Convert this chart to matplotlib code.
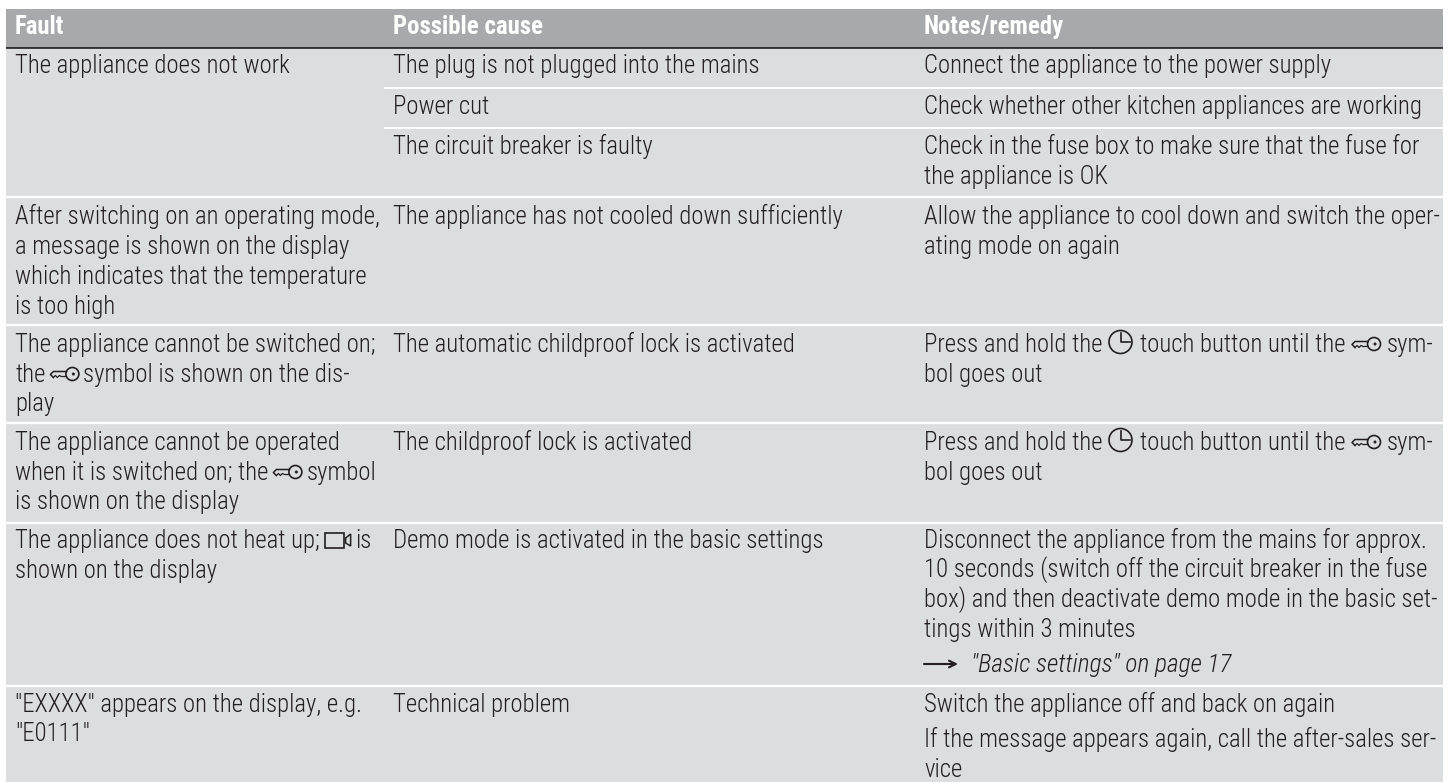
import matplotlib
matplotlib.use('Agg')
import re
import matplotlib.pyplot as plt
from matplotlib.patches import Rectangle, Circle, Polygon

plt.rcParams['font.family'] = ['Roboto Condensed', 'Liberation Sans', 'DejaVu Sans']

headers = ['Fault', 'Possible cause', 'Notes/remedy']

# {key} {clock} {demo} are the little panel symbols
faults = [
    ['The appliance does not work'],
    ['After switching on an operating mode,', 'a message is shown on the display',
     'which indicates that the temperature', 'is too high'],
    ['The appliance cannot be switched on;', 'the {key} symbol is shown on the dis-', 'play'],
    ['The appliance cannot be operated', 'when it is switched on; the {key} symbol', 'is shown on the display'],
    ['The appliance does not heat up; {demo} is', 'shown on the display'],
    ['"EXXXX" appears on the display, e.g.', '"E0111"'],
]
causes = [
    ['The plug is not plugged into the mains'],
    ['Power cut'],
    ['The circuit breaker is faulty'],
    ['The appliance has not cooled down sufficiently'],
    ['The automatic childproof lock is activated'],
    ['The childproof lock is activated'],
    ['Demo mode is activated in the basic settings'],
    ['Technical problem'],
]
notes = [
    ['Connect the appliance to the power supply'],
    ['Check whether other kitchen appliances are working'],
    ['Check in the fuse box to make sure that the fuse for', 'the appliance is OK'],
    ['Allow the appliance to cool down and switch the oper-', 'ating mode on again'],
    ['Press and hold the {clock} touch button until the {key} sym-', 'bol goes out'],
    ['Press and hold the {clock} touch button until the {key} sym-', 'bol goes out'],
    ['Disconnect the appliance from the mains for approx.', '10 seconds (switch off the circuit breaker in the fuse',
     'box) and then deactivate demo mode in the basic set-', 'tings within 3 minutes'],
    ['Switch the appliance off and back on again', 'If the message appears again, call the after-sales ser-', 'vice'],
]
link_text = '"Basic settings" on page 17'

# baselines in pixels, same shape as the text lists
fault_y = [[73], [224, 254, 284, 314], [352, 382, 411], [450, 480, 509], [548, 578], [712, 741]]
cause_y = [[73], [114], [154], [224], [352], [450], [548], [712]]
note_y = [[73], [114], [154, 184], [224, 254], [352, 382], [450, 480], [548, 577, 607, 637], [712, 747, 777]]
link_y = 672

col_x = [15, 393, 924]
left, right, top, bottom = 6, 1443, 9, 782
header_bottom = 48
full_lines = [197, 325, 423, 523, 686]
short_lines = [88, 128]
short_start = 384

BG = '#dcddde'
HEAD = '#a7a9ac'
INK = '#231f20'
FS = 17.8

fig = plt.figure(figsize=(14.52, 7.82), dpi=100)
ax = fig.add_axes([0, 0, 1, 1])
ax.set_xlim(0, 1452)
ax.set_ylim(782, 0)
ax.axis('off')


def draw_key(x, y):
    # y is the baseline, icon sits around x-height
    cy = y - 8
    ax.add_patch(Circle((x + 23, cy), 6.5, fill=False, ec=INK, lw=1.2))
    ax.add_patch(Circle((x + 24, cy), 1.5, color=INK, lw=0))
    ax.plot([x + 17, x + 4, x + 1, x + 4], [cy - 2.5, cy - 2.5, cy + 0.5, cy + 3.5], color=INK, lw=1.1)
    ax.plot([x + 4, x + 6, x + 8, x + 10, x + 12, x + 17], [cy + 3.5, cy + 1.5, cy + 3.5, cy + 1.5, cy + 2.5, cy + 2.5],
            color=INK, lw=0.9)
    return 30


def draw_clock(x, y):
    cy = y - 10
    ax.add_patch(Circle((x + 12, cy), 11.5, fill=False, ec=INK, lw=1.2))
    ax.plot([x + 12, x + 12, x + 21], [cy - 9, cy, cy], color=INK, lw=1.2)
    return 25


def draw_demo(x, y):
    ax.add_patch(Rectangle((x + 1, y - 15), 19, 14.5, fill=False, ec=INK, lw=1.2))
    ax.add_patch(Polygon([[x + 22, y - 10], [x + 27, y - 14], [x + 27, y - 2], [x + 22, y - 5]],
                         fill=False, ec=INK, lw=1.1))
    return 28


icons = {'key': draw_key, 'clock': draw_clock, 'demo': draw_demo}


def draw_line(x, y, line, gap):
    # text runs and symbols are put one after the other
    renderer = fig.canvas.get_renderer()
    for part in re.split(r'(\{\w+\})', line):
        if not part:
            continue
        if part[0] == '{':
            x += icons[part[1:-1]](x, y)
        else:
            run = part.strip()
            if part.startswith(' '):
                x += gap
            t = ax.text(x, y, run, fontsize=FS, fontweight=300, color=INK, va='baseline', ha='left')
            x += t.get_window_extent(renderer).width
            if part.endswith(' '):
                x += gap


def draw_column(x, cells, ys, gap=4):
    for lines, yy in zip(cells, ys):
        for line, y in zip(lines, yy):
            draw_line(x, y, line, gap)


# background, header band, separators
ax.add_patch(Rectangle((left, top), right - left, bottom - top, color=BG, lw=0))
ax.add_patch(Rectangle((left, top), right - left, header_bottom - top, color=HEAD, lw=0))
ax.plot([left, right], [header_bottom, header_bottom], color='#111111', lw=1.1, solid_capstyle='butt')
for y in full_lines:
    ax.plot([left, right], [y, y], color='white', lw=1.7, solid_capstyle='butt')
for y in short_lines:
    ax.plot([short_start, right], [y, y], color='white', lw=1.3, solid_capstyle='butt')

for x, h in zip(col_x, headers):
    ax.text(x, 34, h, fontsize=FS, fontweight='bold', color='white', va='baseline', ha='left')

draw_column(col_x[0], faults, fault_y)
draw_column(col_x[1], causes, cause_y)
draw_column(col_x[2], notes, note_y, gap=6)

# cross reference with long arrow
ax.annotate('', xy=(col_x[2] + 34, link_y - 8), xytext=(col_x[2], link_y - 8),
            arrowprops=dict(arrowstyle='->', color=INK, lw=1.5, shrinkA=0, shrinkB=0, mutation_scale=12))
ax.text(col_x[2] + 47, link_y, link_text, fontsize=FS + 0.5, fontweight=300, style='italic', color=INK,
        va='baseline', ha='left')

fig.savefig('out.png', dpi=100)
